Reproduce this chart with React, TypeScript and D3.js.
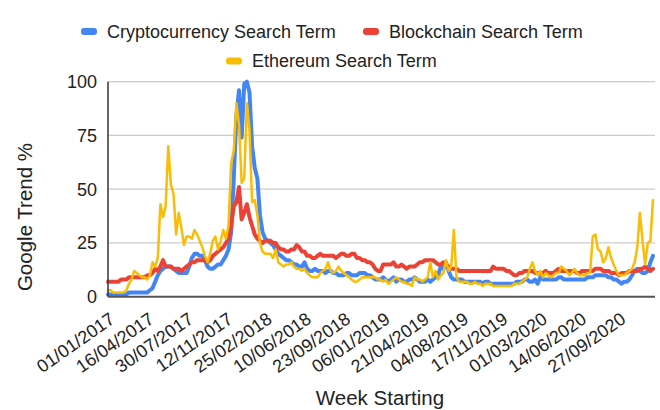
import { scaleLinear, line, range } from "d3";

// weekly Google Trends values, week 0 = 01/01/2017
const crypto = [
  1, 1, 1, 1, 1, 1, 1, 1, 2, 2,
  2, 2, 2, 2, 2, 2, 3, 4, 7, 10,
  12, 13, 14, 14, 14, 13, 12, 11, 11, 11,
  11, 14, 18, 20, 20, 19, 19, 17, 14, 13,
  13, 14, 15, 15, 17, 19, 22, 30, 55, 84,
  96, 74, 99, 100, 95, 70, 60, 55, 38, 30,
  27, 26, 25, 24, 22, 20, 19, 18, 17, 17,
  16, 15, 15, 14, 14, 16, 13, 12, 12, 13,
  12, 12, 12, 11, 12, 12, 11, 11, 10, 10,
  10, 11, 11, 10, 10, 10, 11, 11, 11, 10,
  10, 9, 8, 8, 8, 9, 8, 7, 8, 9,
  7, 8, 8, 7, 7, 8, 8, 9, 8, 7,
  7, 7, 8, 7, 8, 9, 10, 14, 13, 16,
  12, 9, 8, 8, 8, 8, 7, 7, 7, 7,
  7, 7, 7, 6, 7, 7, 6, 6, 6, 6,
  6, 6, 6, 6, 6, 6, 7, 7, 7, 8,
  8, 7, 7, 8, 6, 9, 8, 8, 8, 8,
  8, 8, 9, 9, 8, 8, 8, 8, 8, 8,
  8, 8, 8, 9, 9, 9, 10, 10, 10, 10,
  10, 9, 9, 8, 8, 7, 6, 7, 7, 8,
  10, 12, 13, 12, 11, 11, 12, 16, 19,
];

const blockchain = [
  7, 7, 7, 7, 7, 8, 8, 8, 9, 9,
  9, 9, 9, 9, 9, 10, 10, 11, 13, 12,
  14, 17, 14, 14, 14, 13, 13, 13, 12, 13,
  14, 15, 16, 16, 17, 17, 17, 17, 16, 17,
  19, 20, 21, 22, 23, 25, 27, 33, 42, 44,
  51, 36, 39, 43, 37, 33, 29, 27, 26, 25,
  26, 26, 26, 25, 25, 23, 22, 22, 21, 21,
  22, 22, 24, 23, 21, 21, 19, 19, 18, 18,
  19, 20, 19, 19, 19, 19, 19, 18, 19, 20,
  20, 19, 19, 20, 20, 18, 18, 17, 17, 16,
  16, 15, 13, 12, 12, 15, 15, 15, 15, 16,
  14, 14, 15, 14, 13, 14, 14, 14, 15, 16,
  16, 17, 17, 17, 17, 16, 15, 15, 16, 15,
  14, 13, 13, 13, 12, 12, 12, 12, 12, 12,
  12, 12, 12, 12, 12, 12, 12, 14, 13, 13,
  13, 13, 12, 12, 11, 10, 10, 11, 11, 12,
  12, 12, 12, 11, 11, 11, 11, 12, 11, 11,
  11, 12, 13, 12, 12, 12, 12, 12, 12, 11,
  11, 12, 12, 12, 12, 12, 13, 13, 13, 12,
  12, 12, 11, 11, 11, 10, 11, 11, 11, 12,
  12, 12, 12, 13, 13, 14, 13, 12, 13,
];

const ethereum = [
  3, 3, 2, 2, 2, 2, 2, 3, 6, 8,
  12, 11, 10, 9, 9, 8, 10, 16, 14, 18,
  43, 37, 42, 70, 52, 48, 29, 39, 32, 24,
  28, 28, 27, 31, 29, 26, 23, 19, 16, 20,
  26, 28, 22, 26, 31, 27, 33, 62, 68, 90,
  80, 53, 55, 90, 78, 44, 45, 38, 25, 21,
  20, 20, 20, 18, 22, 16, 15, 14, 15, 15,
  16, 14, 13, 13, 12, 13, 11, 10, 9, 9,
  9, 11, 12, 13, 16, 12, 11, 12, 14, 12,
  11, 10, 9, 8, 7, 7, 8, 9, 9, 9,
  9, 9, 9, 8, 8, 7, 8, 6, 7, 8,
  9, 8, 7, 7, 6, 6, 5, 9, 8, 8,
  7, 8, 9, 16, 9, 12, 8, 10, 11, 17,
  12, 14, 31, 9, 7, 7, 7, 7, 6, 6,
  7, 6, 6, 5, 6, 6, 6, 5, 5, 5,
  5, 5, 5, 5, 5, 6, 6, 6, 7, 8,
  9, 13, 16, 12, 10, 12, 9, 11, 10, 9,
  10, 11, 11, 14, 13, 12, 10, 11, 13, 11,
  10, 10, 10, 11, 11, 28, 29, 22, 21, 16,
  18, 23, 18, 15, 12, 10, 10, 10, 11, 12,
  13, 16, 23, 39, 26, 15, 25, 26, 45,
];

const xTickLabels = [
  "01/01/2017", "16/04/2017", "30/07/2017", "12/11/2017", "25/02/2018",
  "10/06/2018", "23/09/2018", "06/01/2019", "21/04/2019", "04/08/2019",
  "17/11/2019", "01/03/2020", "14/06/2020", "27/09/2020",
];
const yTicks = [0, 25, 50, 75, 100];

const seriesNames = ["Cryptocurrency Search Term", "Blockchain Search Term", "Ethereum Search Term"];
const seriesColors = ["#4285F4", "#EA4335", "#FBBC04"];
const seriesWidths = [4, 4, 2.5];

const W = 660;
const H = 410;
const margin = { top: 81.7, right: 7, bottom: 113.3, left: 108 };
const font = "'Liberation Sans', Arial, sans-serif";

// legend slots: [marker x, row y]
const legendPos = [[81, 31.5], [363, 31.5], [226, 61]];

export default function App() {
  const series = [crypto, blockchain, ethereum];
  const x = scaleLinear().domain([0, crypto.length - 1]).range([margin.left, W - margin.right]);
  const y = scaleLinear().domain([0, 100]).range([H - margin.bottom, margin.top]);
  const path = line<number>().x((_, i) => x(i)).y((d) => y(d));
  const xTicks = range(0, xTickLabels.length).map((k) => k * 15);

  return (
    <svg width={W} height={H} style={{ position: "fixed", left: 0, top: 0, background: "#fff" }} fontFamily={font}>
      {/* legend */}
      {seriesNames.map((name, i) => (
        <g key={name} transform={`translate(${legendPos[i][0]},${legendPos[i][1]})`}>
          <rect x={0} y={-3.5} width={16} height={7} rx={3} fill={seriesColors[i]} />
          <text x={26} dy="0.35em" fontSize={18} fill="#222">{name}</text>
        </g>
      ))}

      {/* grid */}
      {yTicks.filter((t) => t > 0).map((t) => (
        <line key={t} x1={margin.left} x2={W - margin.right + 2} y1={y(t)} y2={y(t)} stroke="#cccccc" strokeWidth={1.2} />
      ))}
      {yTicks.map((t) => (
        <text key={t} x={97} y={y(t)} dy="0.35em" textAnchor="end" fontSize={18} fill="#222">{t}</text>
      ))}

      {/* series */}
      {series.map((s, i) => (
        <path key={i} d={path(s) ?? undefined} fill="none" stroke={seriesColors[i]}
          strokeWidth={seriesWidths[i]} strokeLinejoin="round" strokeLinecap="round" />
      ))}

      {/* axes */}
      <line x1={margin.left} x2={margin.left} y1={margin.top} y2={y(0)} stroke="#333" strokeWidth={1.5} />
      <line x1={margin.left} x2={W - margin.right + 2} y1={y(0)} y2={y(0)} stroke="#555" strokeWidth={2} />

      {xTicks.map((t, k) => (
        <text key={t} transform={`translate(${x(t) + 8},${y(0) + 25}) rotate(-35)`} textAnchor="end" fontSize={18} fill="#222">
          {xTickLabels[k]}
        </text>
      ))}

      {/* axis titles */}
      <text transform={`translate(31.5,217) rotate(-90)`} textAnchor="middle" fontSize={20.5} fill="#222">Google Trend %</text>
      <text x={380} y={405} textAnchor="middle" fontSize={20.5} fill="#222">Week Starting</text>
    </svg>
  );
}
